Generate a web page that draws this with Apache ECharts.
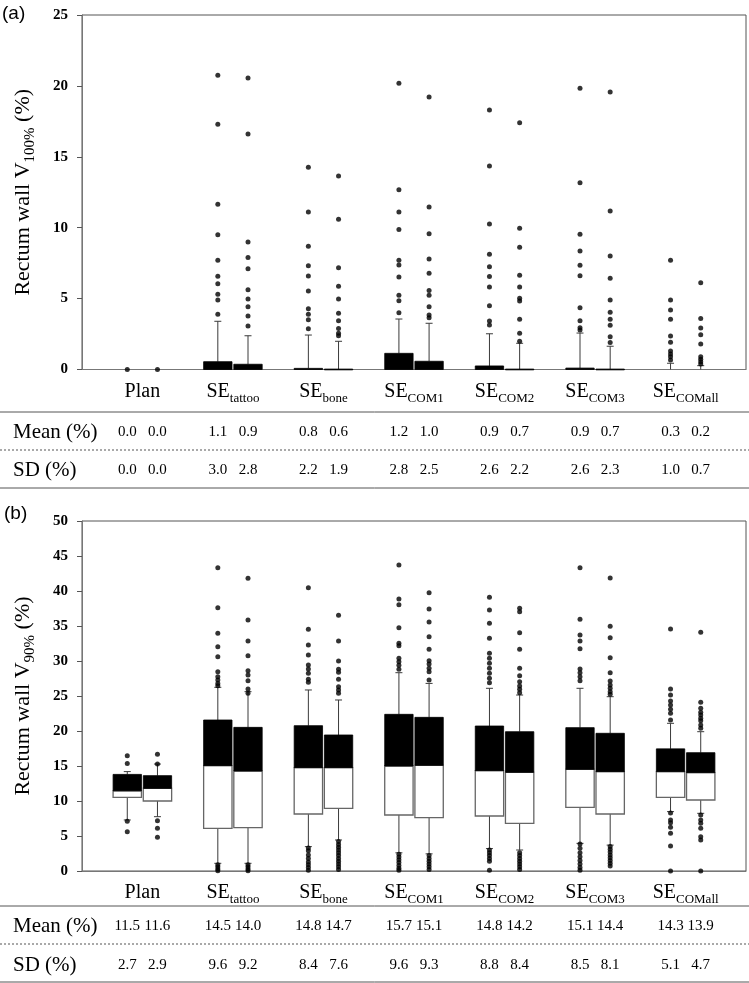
<!DOCTYPE html>
<html><head><meta charset="utf-8">
<script src="https://cdn.jsdelivr.net/npm/echarts@6/dist/echarts.min.js"></script>
<style>html,body{margin:0;padding:0;background:#fff}#c{width:749px;height:983px}</style>
</head><body><div id="c"></div>
<script>
// ---------- categories ----------
const groupMain = ['Plan', 'SE', 'SE', 'SE', 'SE', 'SE', 'SE'];
const groupSub  = ['', 'tattoo', 'bone', 'COM1', 'COM2', 'COM3', 'COMall'];
const yTicksA = [0, 5, 10, 15, 20, 25];
const yTicksB = [0, 5, 10, 15, 20, 25, 30, 35, 40, 45, 50];

// ---------- panel (a): Rectum wall V100% ----------
const aQ1  = [0, 0, 0, 0, 0, 0, 0, 0, 0, 0, 0, 0, 0, 0];
const aMed = [0, 0, 0, 0, 0, 0, 0, 0, 0, 0, 0, 0, 0, 0];
const aQ3  = [0, 0, 0.55, 0.37, 0.08, 0.03, 1.14, 0.58, 0.25, 0.03, 0.10, 0.03, 0, 0];
const aLo  = [0, 0, 0, 0, 0, 0, 0, 0, 0, 0, 0, 0, 0, 0];
const aHi  = [0, 0, 3.4, 2.38, 2.43, 1.99, 3.56, 3.26, 2.52, 1.85, 2.57, 1.64, 0.44, 0.27];
const aOut = [
  [0], [0],
  [20.75, 17.3, 11.65, 9.5, 7.7, 6.57, 6.05, 5.3, 4.9, 3.9],
  [20.55, 16.6, 9.0, 7.9, 7.1, 5.63, 4.97, 4.43, 3.77, 3.07],
  [14.26, 11.1, 8.7, 7.32, 6.6, 5.54, 4.29, 3.9, 3.5, 2.88],
  [13.65, 10.6, 7.18, 5.87, 4.97, 3.96, 3.44, 2.9, 2.55, 2.38],
  [20.18, 12.68, 11.1, 9.88, 7.7, 7.37, 6.52, 5.23, 4.85, 4.0],
  [19.22, 11.46, 9.58, 7.79, 6.78, 5.58, 5.23, 4.43, 3.84, 3.65],
  [18.3, 14.35, 10.26, 8.12, 7.25, 6.55, 5.82, 4.5, 3.42, 3.14],
  [17.4, 9.96, 8.62, 6.64, 5.82, 5.02, 4.83, 3.54, 2.55, 2.0],
  [19.83, 13.17, 9.53, 8.36, 7.35, 6.62, 4.36, 3.44, 2.95, 2.79],
  [19.57, 11.18, 8.0, 6.43, 4.9, 4.03, 3.54, 3.12, 2.31, 1.9],
  [7.7, 4.9, 4.2, 3.54, 2.36, 1.92, 1.3, 1.09, 0.9, 0.67],
  [6.12, 3.6, 2.93, 2.45, 1.8, 0.9, 0.72, 0.55, 0.39]
];
const aMean = [0.0, 0.0, 1.1, 0.9, 0.8, 0.6, 1.2, 1.0, 0.9, 0.7, 0.9, 0.7, 0.3, 0.2];
const aSD   = [0.0, 0.0, 3.0, 2.8, 2.2, 1.9, 2.8, 2.5, 2.6, 2.2, 2.6, 2.3, 1.0, 0.7];

// ---------- panel (b): Rectum wall V90% ----------
const bQ1  = [10.52, 10.0, 6.1, 6.19, 8.14, 8.95, 8.0, 7.62, 7.86, 6.81, 9.1, 8.14, 10.52, 10.14];
const bMed = [11.45, 11.81, 15.05, 14.28, 14.76, 14.76, 15.0, 15.1, 14.33, 14.1, 14.52, 14.19, 14.19, 14.05];
const bQ3  = [13.8, 13.62, 21.57, 20.52, 20.76, 19.43, 22.38, 21.95, 20.71, 19.9, 20.48, 19.67, 17.45, 16.9];
const bLo  = [7.29, 7.76, 1.1, 1.1, 3.48, 4.43, 2.6, 2.45, 3.2, 3.0, 3.95, 3.7, 8.48, 8.24];
const bHi  = [14.2, 15.28, 26.24, 25.62, 25.86, 24.43, 28.33, 26.8, 26.1, 25.14, 26.1, 24.9, 21.1, 19.9];
const bOut = [
  [16.45, 15.35, 7.1, 5.62],
  [16.67, 15.3, 7.19, 6.1, 4.81],
  [43.33, 37.62, 33.95, 32.05, 30.62, 28.48, 27.76, 27.29, 26.8, 26.48, 0.9, 0.6, 0.3, 0.05],
  [41.81, 35.86, 32.86, 30.76, 28.62, 28.0, 27.19, 26.0, 25.38, 0.9, 0.6, 0.3, 0.05],
  [40.48, 34.52, 32.29, 30.86, 29.43, 28.86, 28.24, 27.38, 26.95, 3.3, 2.9, 2.3, 1.8, 1.3, 0.9, 0.5, 0.1],
  [36.52, 32.86, 30.0, 28.81, 28.38, 27.38, 26.33, 25.86, 25.38, 4.2, 3.8, 3.4, 3.0, 2.6, 2.2, 1.8, 1.4, 1.0, 0.6, 0.2],
  [43.71, 38.86, 38.05, 34.76, 32.52, 32.19, 30.38, 29.9, 29.38, 28.81, 2.4, 2.0, 1.6, 1.2, 0.8, 0.4, 0.1],
  [39.76, 37.43, 35.57, 33.48, 31.67, 30.05, 29.57, 28.95, 28.48, 27.29, 2.2, 1.8, 1.4, 1.0, 0.6, 0.2],
  [39.1, 37.29, 35.38, 33.24, 31.1, 30.38, 29.67, 28.95, 28.24, 27.52, 26.9, 3.0, 2.6, 2.2, 1.8, 1.4, 0.1],
  [37.52, 37.05, 34.05, 31.67, 28.95, 27.9, 27.05, 26.43, 25.95, 25.48, 2.6, 2.2, 1.8, 1.4, 1.0, 0.6, 0.2],
  [43.33, 35.95, 33.71, 32.86, 31.76, 28.86, 28.33, 27.76, 27.19, 3.86, 3.24, 2.62, 2.05, 1.5, 1.0, 0.5, 0.1],
  [41.86, 34.95, 33.33, 30.48, 28.33, 27.14, 26.57, 26.1, 25.62, 25.24, 3.5, 3.1, 2.7, 2.3, 1.9, 1.5, 1.1, 0.7],
  [34.57, 26.0, 25.14, 24.29, 23.71, 23.1, 22.52, 21.57, 8.3, 7.29, 6.9, 6.24, 5.38, 3.57, 0],
  [34.1, 24.1, 23.24, 22.67, 22.29, 21.81, 21.48, 20.86, 20.38, 8.0, 7.29, 6.81, 6.1, 4.9, 4.43, 0]
];
const bMean = [11.5, 11.6, 14.5, 14.0, 14.8, 14.7, 15.7, 15.1, 14.8, 14.2, 15.1, 14.4, 14.3, 13.9];
const bSD   = [2.7, 2.9, 9.6, 9.2, 8.4, 7.6, 9.6, 9.3, 8.8, 8.4, 8.5, 8.1, 5.1, 4.7];

// ---------- helpers ----------
const SERIF = "'Liberation Serif', 'Times New Roman', serif";
const SANS = "'Liberation Sans', Arial, sans-serif";
const pos = k => Math.floor(k / 2) * 3 - 0.5 + (k % 2);
const boxPositions = aQ1.map((_, k) => pos(k));
const groupCenters = groupMain.map((_, g) => g * 3);

function boxData(q1, med, q3, lo, hi) {
  return q1.map((_, k) => [pos(k), q1[k], med[k], q3[k], lo[k], hi[k]]);
}
function outData(outs) {
  const d = [];
  outs.forEach((arr, k) => arr.forEach(v => d.push([pos(k), v])));
  return d;
}
function renderBox(params, api) {
  const x = api.value(0);
  const q1 = api.value(1), med = api.value(2), q3 = api.value(3), lo = api.value(4), hi = api.value(5);
  const cx = api.coord([x, q1])[0];
  const y1 = api.coord([x, q1])[1], yM = api.coord([x, med])[1], y3 = api.coord([x, q3])[1];
  const yL = api.coord([x, lo])[1], yH = api.coord([x, hi])[1];
  const w = api.size([0.94, 0])[0];
  const cap = 3.5;
  const ls = { stroke: '#3a3a3a', lineWidth: 1 };
  const ch = [];
  if (hi > q3) {
    ch.push({ type: 'line', shape: { x1: cx, y1: y3, x2: cx, y2: yH }, style: ls });
    ch.push({ type: 'line', shape: { x1: cx - cap, y1: yH, x2: cx + cap, y2: yH }, style: ls });
  }
  if (lo < q1) {
    ch.push({ type: 'line', shape: { x1: cx, y1: y1, x2: cx, y2: yL }, style: ls });
    ch.push({ type: 'line', shape: { x1: cx - cap, y1: yL, x2: cx + cap, y2: yL }, style: ls });
  }
  if (med > q1) ch.push({ type: 'rect', shape: { x: cx - w / 2, y: yM, width: w, height: y1 - yM }, style: { fill: '#fff', stroke: '#666', lineWidth: 1.3 } });
  if (q3 > med) ch.push({ type: 'rect', shape: { x: cx - w / 2, y: y3, width: w, height: Math.max(yM - y3, 0.8) }, style: { fill: '#000', stroke: '#000', lineWidth: 0.8 } });
  return { type: 'group', children: ch };
}

const groupRich = {
  m: { fontFamily: SERIF, fontSize: 20, lineHeight: 26, color: '#000', verticalAlign: 'middle' },
  s: { fontFamily: SERIF, fontSize: 13, lineHeight: 13, color: '#000', verticalAlign: 'bottom' }
};
function groupLabel(v) {
  const g = Math.round(v / 3);
  return groupSub[g] ? '{m|' + groupMain[g] + '}{s|' + groupSub[g] + '}' : '{m|' + groupMain[g] + '}';
}
function tableAxis(gridIndex, margin, vals) {
  return {
    type: 'value', gridIndex: gridIndex, position: 'bottom', min: -2, max: 20,
    axisLine: { show: false, onZero: false }, axisTick: { show: false }, splitLine: { show: false },
    axisLabel: {
      customValues: boxPositions, margin: margin, fontFamily: SERIF, fontSize: 15, lineHeight: 16, color: '#000',
      formatter: v => { const k = boxPositions.indexOf(v); return k < 0 ? '' : vals[k].toFixed(1); }
    }
  };
}
function mainXAxis(gridIndex, margin) {
  return {
    type: 'value', gridIndex: gridIndex, position: 'bottom', min: -2, max: 20,
    axisLine: { show: true, onZero: false, lineStyle: { color: '#777', width: 1 } },
    axisTick: { show: false }, splitLine: { show: false },
    axisLabel: { customValues: groupCenters, margin: margin, formatter: groupLabel, rich: groupRich }
  };
}
function yAx(gridIndex, max, nameSub, ticks) {
  return {
    type: 'value', gridIndex: gridIndex, position: 'left', min: ticks[0], max: max, interval: 5,
    axisLine: { show: true, onZero: false, lineStyle: { color: '#777', width: 1 } },
    axisTick: { show: true, inside: false, length: 5, lineStyle: { color: '#555' } },
    splitLine: { show: false },
    axisLabel: { margin: 14, fontFamily: SERIF, fontWeight: 'bold', fontSize: 15, color: '#000' },
    name: '{m|Rectum wall V}{s|' + nameSub + '}{m| (%)}',
    nameLocation: 'middle', nameRotate: 90, nameGap: 44,
    nameTextStyle: {
      rich: {
        m: { fontFamily: SERIF, fontSize: 22, lineHeight: 30, color: '#000', verticalAlign: 'middle' },
        s: { fontFamily: SERIF, fontSize: 15, lineHeight: 15, color: '#000', verticalAlign: 'bottom' }
      }
    }
  };
}
function hline(y, dotted) {
  return { type: 'line', shape: { x1: 0, y1: y, x2: 749, y2: y },
    style: { stroke: '#555', lineWidth: 1, lineDash: dotted ? [2, 2] : null } };
}
function rowText(txt, y) {
  return { type: 'text', x: 13, y: y, style: { text: txt, fontFamily: SERIF, fontSize: 21, fill: '#000', verticalAlign: 'middle' } };
}

const chart = echarts.init(document.getElementById('c'), null, { renderer: 'canvas' });
chart.setOption({
  animation: false,
  backgroundColor: '#fff',
  grid: [
    { left: 82, top: 15, width: 664, height: 354.5, show: true, borderColor: '#555', borderWidth: 1 },
    { left: 82, top: 521, width: 664, height: 350, show: true, borderColor: '#555', borderWidth: 1 }
  ],
  xAxis: [
    mainXAxis(0, 9.5), tableAxis(0, 54.5, aMean), tableAxis(0, 92.5, aSD),
    mainXAxis(1, 9), tableAxis(1, 47, bMean), tableAxis(1, 86, bSD)
  ],
  yAxis: [ yAx(0, 25, '100%', yTicksA), yAx(1, 50, '90%', yTicksB) ],
  series: [
    { type: 'custom', xAxisIndex: 0, yAxisIndex: 0, renderItem: renderBox, encode: { x: 0, y: [1, 2, 3, 4, 5] }, data: boxData(aQ1, aMed, aQ3, aLo, aHi), clip: false },
    { type: 'scatter', xAxisIndex: 0, yAxisIndex: 0, symbolSize: 5, itemStyle: { color: '#000' }, data: outData(aOut), clip: false },
    { type: 'custom', xAxisIndex: 3, yAxisIndex: 1, renderItem: renderBox, encode: { x: 0, y: [1, 2, 3, 4, 5] }, data: boxData(bQ1, bMed, bQ3, bLo, bHi), clip: false },
    { type: 'scatter', xAxisIndex: 3, yAxisIndex: 1, symbolSize: 5, itemStyle: { color: '#000' }, data: outData(bOut), clip: false }
  ],
  graphic: [
    { type: 'text', x: 2, y: 14, style: { text: '(a)', fontFamily: SANS, fontSize: 19, fill: '#000', verticalAlign: 'middle' } },
    { type: 'text', x: 4, y: 514, style: { text: '(b)', fontFamily: SANS, fontSize: 19, fill: '#000', verticalAlign: 'middle' } },
    hline(412, false), hline(450, true), hline(488, false),
    hline(906, false), hline(944, true), hline(982, false),
    rowText('Mean (%)', 432), rowText('SD (%)', 470),
    rowText('Mean (%)', 926), rowText('SD (%)', 965)
  ]
});
</script>
</body></html>
